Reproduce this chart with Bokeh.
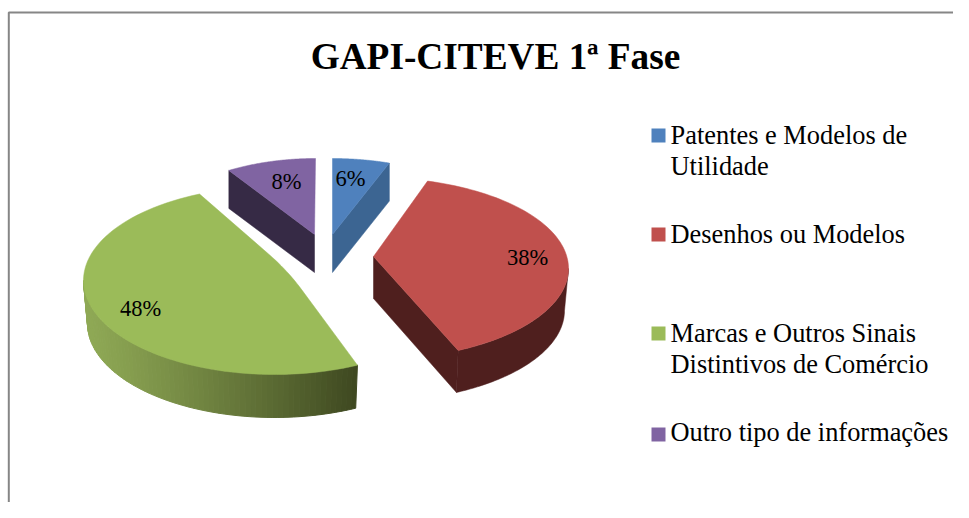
import math
from bokeh.plotting import figure
from bokeh.models import Range1d
from bokeh.core.properties import value
from bokeh.embed import file_html
from bokeh.resources import INLINE

# ---- chart content ----
title_text = "GAPI-CITEVE 1ª Fase"
categories = ["Patentes e Modelos de Utilidade", "Desenhos ou Modelos",
              "Marcas e Outros Sinais Distintivos de Comércio", "Outro tipo de informações"]
legend_lines = [["Patentes e Modelos de", "Utilidade"], ["Desenhos ou Modelos"],
                ["Marcas e Outros Sinais", "Distintivos de Comércio"], ["Outro tipo de informações"]]
shares = [6, 38, 48, 8]

# ---- styling / layout ----
FONT = "Liberation Serif"
top_colors = ["#4F81BD", "#C0504D", "#9BBB59", "#8064A2"]
wall_colors = ["#3C6592", "#4F1F1E", None, "#362A45"]
gradient_left, gradient_right = (143, 169, 85), (62, 72, 32)
# apex x, apex y, ellipse cx, ellipse cy, a, b, depth, apex rounding
geometry = [
    (332, 234, 332, 250, 183, 92, 38, 0),
    (373, 256, 373, 268, 195, 91, 42, 0),
    (287, 270, 274, 280, 191, 94, 43, 24),
    (314, 234, 315, 250, 176, 92, 38, 0),
]
start_shift_deg = [0, -2, 0, -5.3]
end_shift_deg = [0, 0, 1.1, 0]
label_pos = [(350, 178), (286, 181), (527, 257), (140, 308)]
label_order = [0, 3, 1, 2]
swatch_tops = [128, 227, 326, 427]
legend_baselines = [[134, 165], [233], [332, 363], [431]]
K = 0.835
W, H = 953, 502

p = figure(width=W, height=H, output_backend="svg", toolbar_location=None,
           x_range=Range1d(0, W), y_range=Range1d(H, 0),
           min_border=0, outline_line_color=None, background_fill_color="white")
p.axis.visible = False
p.grid.visible = False
p.xaxis.visible = False
p.yaxis.visible = False

# frame
p.line([8.3, 8.3, W], [H, 12, 12], line_color="#868686", line_width=2)


def t_of(theta):
    return 2 * math.atan2(K * math.sin(theta / 2), math.cos(theta / 2))


def ell(g, t, bottom=False):
    ax, ay, cx, cy, a, b, d, r = g
    if bottom:
        return cx + (a - 4) * math.sin(t), cy + d - b * math.cos(t)
    return cx + a * math.sin(t), cy - b * math.cos(t)


def sweep(t0, t1, n=80):
    return [t0 + (t1 - t0) * i / n for i in range(n + 1)]


total = sum(shares)
edges = [0.0]
for s in shares:
    edges.append(edges[-1] + 2 * math.pi * s / total)
ts = [(t_of(edges[i]) + math.radians(start_shift_deg[i]),
       t_of(edges[i + 1]) + math.radians(end_shift_deg[i])) for i in range(len(shares))]


def draw_wall(xs, ys, color):
    p.patch(xs, ys, fill_color=color, line_color=color, line_width=0.5)


# walls: purple and blue radial faces
g = geometry[3]
pt = ell(g, ts[3][0])
draw_wall([pt[0], g[0], g[0], pt[0]], [pt[1], g[1], g[1] + g[6], pt[1] + g[6]], wall_colors[3])
g = geometry[0]
pt = ell(g, ts[0][1])
draw_wall([g[0], pt[0], pt[0], g[0]], [g[1], pt[1], pt[1] + g[6], g[1] + g[6]], wall_colors[0])

# red walls
g = geometry[1]
pt = ell(g, ts[1][1])
bt = ell(g, ts[1][1], True)
draw_wall([g[0], pt[0], bt[0], g[0]], [g[1], pt[1], bt[1], g[1] + g[6]], wall_colors[1])
arc = sweep(math.pi / 2, ts[1][1])
top = [ell(g, t) for t in arc]
bot = [ell(g, t, True) for t in reversed(arc)]
draw_wall([q[0] for q in top + bot], [q[1] for q in top + bot], wall_colors[1])

# green outer wall with a left-to-right gradient
g = geometry[2]
arc = sweep(ts[2][0], 1.5 * math.pi, 70)
xmin, xmax = ell(g, 1.5 * math.pi)[0], ell(g, ts[2][0])[0]
qx, qy, qc = [], [], []
for t0, t1 in zip(arc[:-1], arc[1:]):
    a0, a1, b1, b0 = ell(g, t0), ell(g, t1), ell(g, t1, True), ell(g, t0, True)
    f = ((a0[0] + a1[0]) / 2 - xmin) / (xmax - xmin)
    f = f ** 1.15
    c = [round(u + (v - u) * f) for u, v in zip(gradient_left, gradient_right)]
    qx.append([a0[0], a1[0], b1[0], b0[0]])
    qy.append([a0[1], a1[1], b1[1], b0[1]])
    qc.append("#%02X%02X%02X" % tuple(c))
p.patches(qx, qy, fill_color=qc, line_color=qc, line_width=1)

# top faces
for i in [3, 0, 1, 2]:
    g = geometry[i]
    pts = [ell(g, t) for t in sweep(ts[i][0], ts[i][1])]
    ax, ay, r = g[0], g[1], g[7]
    if r:
        e, s = pts[-1], pts[0]
        le, ls = math.hypot(e[0] - ax, e[1] - ay), math.hypot(s[0] - ax, s[1] - ay)
        p2 = (ax + (e[0] - ax) * r / le, ay + (e[1] - ay) * r / le)
        p1 = (ax + (s[0] - ax) * r / ls, ay + (s[1] - ay) * r / ls)
        for k in range(13):
            u = k / 12
            pts.append(((1 - u) ** 2 * p2[0] + 2 * u * (1 - u) * ax + u * u * p1[0],
                        (1 - u) ** 2 * p2[1] + 2 * u * (1 - u) * ay + u * u * p1[1]))
    else:
        pts.append((ax, ay))
    p.patch([q[0] for q in pts], [q[1] for q in pts], fill_color=top_colors[i],
            line_color=top_colors[i], line_width=0.5)

# data labels
p.text([q[0] for q in label_pos], [q[1] for q in label_pos],
       text=[f"{shares[i]}%" for i in label_order],
       text_font=value(FONT), text_font_size="22.5px", text_color="black",
       text_align="center", text_baseline="alphabetic")

# title
p.text([495], [56], text=[title_text], text_font=value(FONT), text_font_size="37.3px",
       text_font_style="bold", text_color="black", text_align="center", text_baseline="alphabetic")

# legend
for i, lines in enumerate(legend_lines):
    p.quad(left=[651], right=[665], top=[swatch_tops[i]], bottom=[swatch_tops[i] + 14],
           fill_color=top_colors[i], line_color=None)
    for line, base in zip(lines, legend_baselines[i]):
        p.text([670], [base], text=[line], text_font=value(FONT), text_font_size="26.4px",
               text_color="black", text_align="left", text_baseline="alphabetic")

open("out.html", "w").write(file_html(p, INLINE))
